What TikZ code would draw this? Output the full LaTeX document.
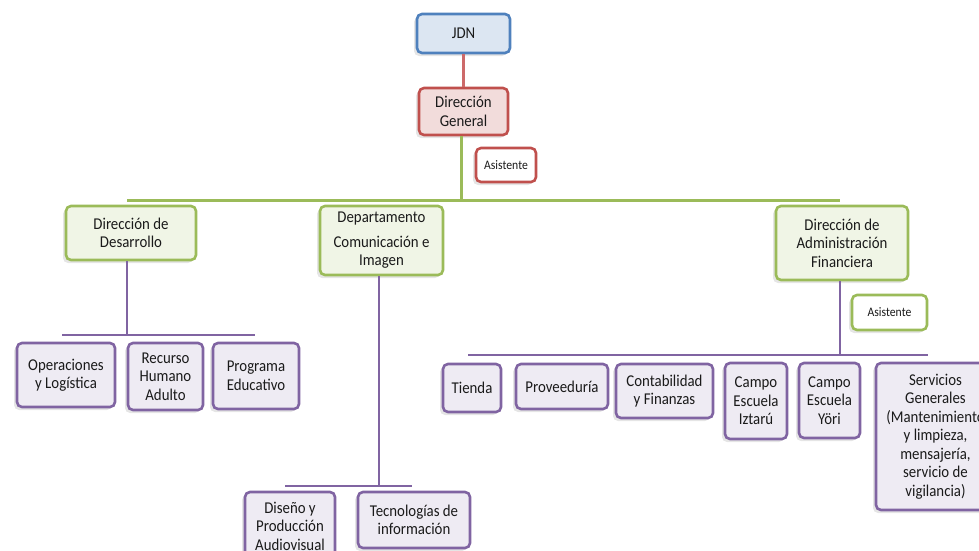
\documentclass[tikz,border=0pt]{standalone}
\usepackage{fontspec}
\setmainfont{Carlito}[FakeStretch=0.9]
\usetikzlibrary{shadows}
\definecolor{bluebd}{HTML}{4F81BD}\definecolor{bluefl}{HTML}{DCE6F2}
\definecolor{redbd}{HTML}{C0504D}\definecolor{redfl}{HTML}{F2DCDB}
\definecolor{greenbd}{HTML}{9BBB59}\definecolor{greenfl}{HTML}{F0F5E6}
\definecolor{purplebd}{HTML}{8064A2}\definecolor{purplefl}{HTML}{EEEBF3}
\definecolor{redln}{HTML}{CD6A6A}
\definecolor{txt}{HTML}{1A1A1A}
\tikzset{
  orgbox/.style 2 args={draw=#1, fill=#2, line width=2.6pt, rounded corners=5pt,
    align=center, inner sep=1pt, text=txt,
    font=\fontsize{16.5}{18.5}\selectfont,
    drop shadow={shadow xshift=-3pt, shadow yshift=-3pt, fill=black, opacity=0.10}},
  bluebox/.style={orgbox={bluebd}{bluefl}},
  redbox/.style={orgbox={redbd}{redfl}},
  greenbox/.style={orgbox={greenbd}{greenfl}},
  purplebox/.style={orgbox={purplebd}{purplefl}},
  smallfont/.style={font=\fontsize{13}{15}\selectfont},
  redlink/.style={draw=redln, line width=2.6pt},
  greenlink/.style={draw=greenbd, line width=3pt},
  purplelink/.style={draw=purplebd, line width=2.6pt},
  wh/.style 2 args={minimum width=#1pt, minimum height=#2pt},
}
\begin{document}
\begin{tikzpicture}[x=1pt,y=-1pt]
\useasboundingbox (0,0) rectangle (979,550);
\clip (0,0) rectangle (979,550);
\fill[white] (0,0) rectangle (979,550);

% bus coordinates
\coordinate (gbusL) at (127,200);
\coordinate (gbusR) at (840,200);
\coordinate (gbusM) at (461,200);
\coordinate (p1L) at (62,335);  \coordinate (p1R) at (255,335); \coordinate (p1M) at (127,335);
\coordinate (p2L) at (285,486); \coordinate (p2R) at (412,486); \coordinate (p2M) at (379,486);
\coordinate (p3L) at (468,355); \coordinate (p3R) at (928,355); \coordinate (p3M) at (840,355);

% top levels
\node[bluebox, wh={93}{39}] (jdn) at (463.5,33.5) {JDN};
\node[redbox, wh={89}{47}] (dg) at (463.5,111.5) {Dirección\\General};
\node[orgbox={redbd}{white}, smallfont, wh={60}{34}] (asi1) at (506,165) {Asistente};

% directorates
\node[greenbox, wh={130}{54}] (dd) at (131,233) {Dirección de\\Desarrollo};
\node[greenbox, wh={123}{69}] (dci) at (381.5,240.5) {Departamento\\[6pt]Comunicación e\\Imagen};
\node[greenbox, wh={132}{74}] (daf) at (842,243) {Dirección de\\Administración\\Financiera};
\node[orgbox={greenbd}{white}, smallfont, wh={75}{35}] (asi2) at (889.5,312.5) {Asistente};

% units under Desarrollo
\node[purplebox, wh={98}{64}] (op) at (66,375) {Operaciones\\y Logística};
\node[purplebox, wh={75}{67}] (rh) at (165.5,376.5) {Recurso\\Humano\\Adulto};
\node[purplebox, wh={86}{66}] (pe) at (256,376) {Programa\\Educativo};

% units under Comunicación
\node[purplebox, wh={90}{68}] (dis) at (290,526) {Diseño y\\Producción\\Audiovisual};
\node[purplebox, wh={112}{56}] (tec) at (414,520) {Tecnologías de\\información};

% units under Administración
\node[purplebox, wh={58}{48}] (tie) at (472,388) {Tienda};
\node[purplebox, wh={92}{45}] (pro) at (562,386.5) {Proveeduría};
\node[purplebox, wh={97}{54}] (con) at (664.5,391) {Contabilidad\\y Finanzas};
\node[purplebox, wh={62}{76}] (cei) at (756,401) {Campo\\Escuela\\Iztarú};
\node[purplebox, wh={61}{75}] (cey) at (829.5,400.5) {Campo\\Escuela\\Yöri};
\node[purplebox, wh={119}{147}] (sg) at (935.5,436.5) {Servicios\\Generales\\(Mantenimiento\\y limpieza,\\mensajería,\\servicio de\\vigilancia)};

% connectors
\draw[redlink] (jdn.south) -- (dg.north);
\draw[greenlink] (dg.south -| gbusM) -- (gbusM);
\draw[greenlink] (gbusL) -- (gbusR);
\draw[purplelink] (dd.south -| p1M) -- (p1M);
\draw[purplelink] (p1L) -- (p1R);
\draw[purplelink] (dci.south -| p2M) -- (p2M);
\draw[purplelink] (p2L) -- (p2R);
\draw[purplelink] (daf.south -| p3M) -- (p3M);
\draw[purplelink] (p3L) -- (p3R);
\end{tikzpicture}
\end{document}
